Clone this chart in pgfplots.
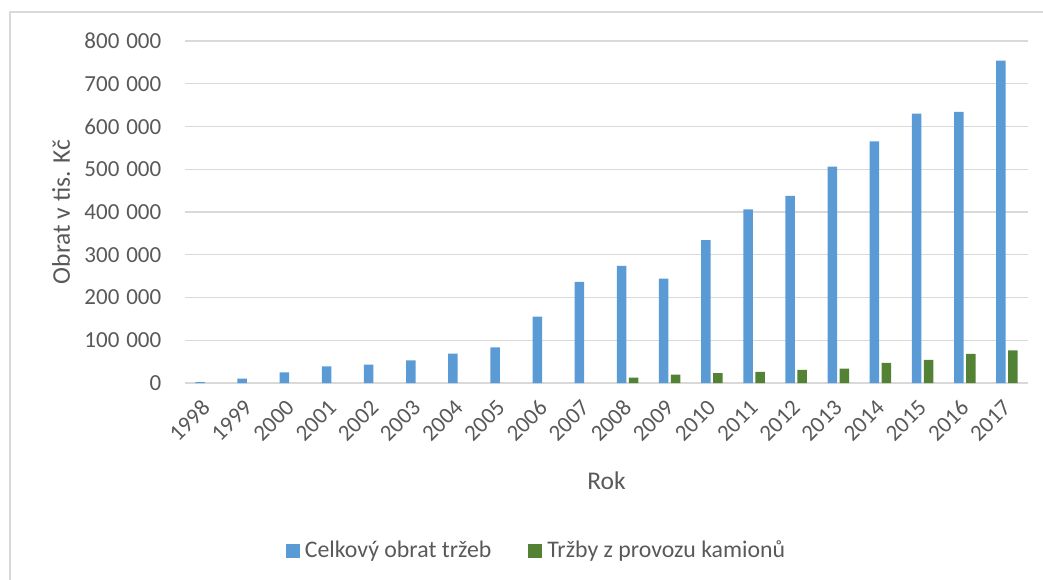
\documentclass[border=0pt]{standalone}
\usepackage{fontspec}
\setmainfont{Carlito}
\usepackage{pgfplots}
\pgfplotsset{compat=1.18}
\definecolor{cblue}{HTML}{5B9BD5}
\definecolor{cgreen}{HTML}{548235}
\definecolor{cgrid}{HTML}{D9D9D9}
\definecolor{ctext}{HTML}{595959}
\begin{document}
\fontsize{23}{27}\selectfont
\begin{tikzpicture}
\useasboundingbox (0pt,-580pt) rectangle (1043pt,0pt);
\draw[cgrid, line width=1.5pt] (10pt,-580pt) -- (10pt,-12pt) -- (1043pt,-12pt);
\begin{axis}[
  at={(185pt,-383pt)}, anchor=south west,
  scale only axis, width=843pt, height=342pt,
  ybar=2.5pt, bar width=9.5pt,
  enlargelimits=false,
  xmin=-0.5, xmax=19.5, ymin=0, ymax=800000,
  xtick={0,1,...,19},
  xticklabels={1998,1999,2000,2001,2002,2003,2004,2005,2006,2007,2008,2009,2010,2011,2012,2013,2014,2015,2016,2017},
  ytick={0,100000,200000,300000,400000,500000,600000,700000,800000},
  scaled y ticks=false,
  ymajorgrids, grid style={cgrid, line width=1.4pt},
  axis x line*=bottom, axis y line*=left,
  x axis line style={cgrid, line width=1.5pt, -},
  y axis line style={draw=none},
  major tick length=0pt,
  tick style={draw=none},
  tick label style={font=\fontsize{23}{27}\selectfont, text=ctext},
  yticklabel style={/pgf/number format/.cd, fixed, 1000 sep={\hspace{0.3em}}, assume math mode=true, /tikz/.cd, anchor=east, inner sep=0pt, xshift=-23.5pt},
  xticklabel style={yshift=-21pt, xshift=0pt, rotate=45, anchor=east, inner sep=0pt},
  xlabel={Rok}, ylabel={Obrat v tis. Kč},
  label style={font=\fontsize{25.5}{30}\selectfont, text=ctext},
  xlabel style={at={(axis description cs:0.5,-0.2865)}, anchor=center},
  ylabel style={at={(axis description cs:-0.147,0.5)}, anchor=center},
  legend style={at={(axis description cs:0.4188,-0.491)}, anchor=center, draw=none, fill=none,
    legend columns=2, font=\fontsize{23.8}{28}\selectfont, text=ctext,
    nodes={inner xsep=5pt},
    /tikz/every even column/.append style={column sep=32pt}},
  legend image code/.code={\fill[#1, draw=none] (0pt,-7pt) rectangle (14pt,7pt);},
]
\addplot[fill=cblue, draw=none] coordinates {
  (0,2000) (1,10000) (2,25000) (3,39000) (4,43000) (5,53000) (6,68500) (7,83500)
  (8,155000) (9,236500) (10,274000) (11,244000) (12,334000) (13,406000) (14,438000)
  (15,506000) (16,565500) (17,630000) (18,634000) (19,754000)};
\addplot[fill=cgreen, draw=none] coordinates {
  (10,12500) (11,19500) (12,23400) (13,25800) (14,30500) (15,33600) (16,46900)
  (17,53900) (18,68000) (19,76600)};
\legend{Celkový obrat tržeb, Tržby z provozu kamionů}
\end{axis}
\end{tikzpicture}
\end{document}
